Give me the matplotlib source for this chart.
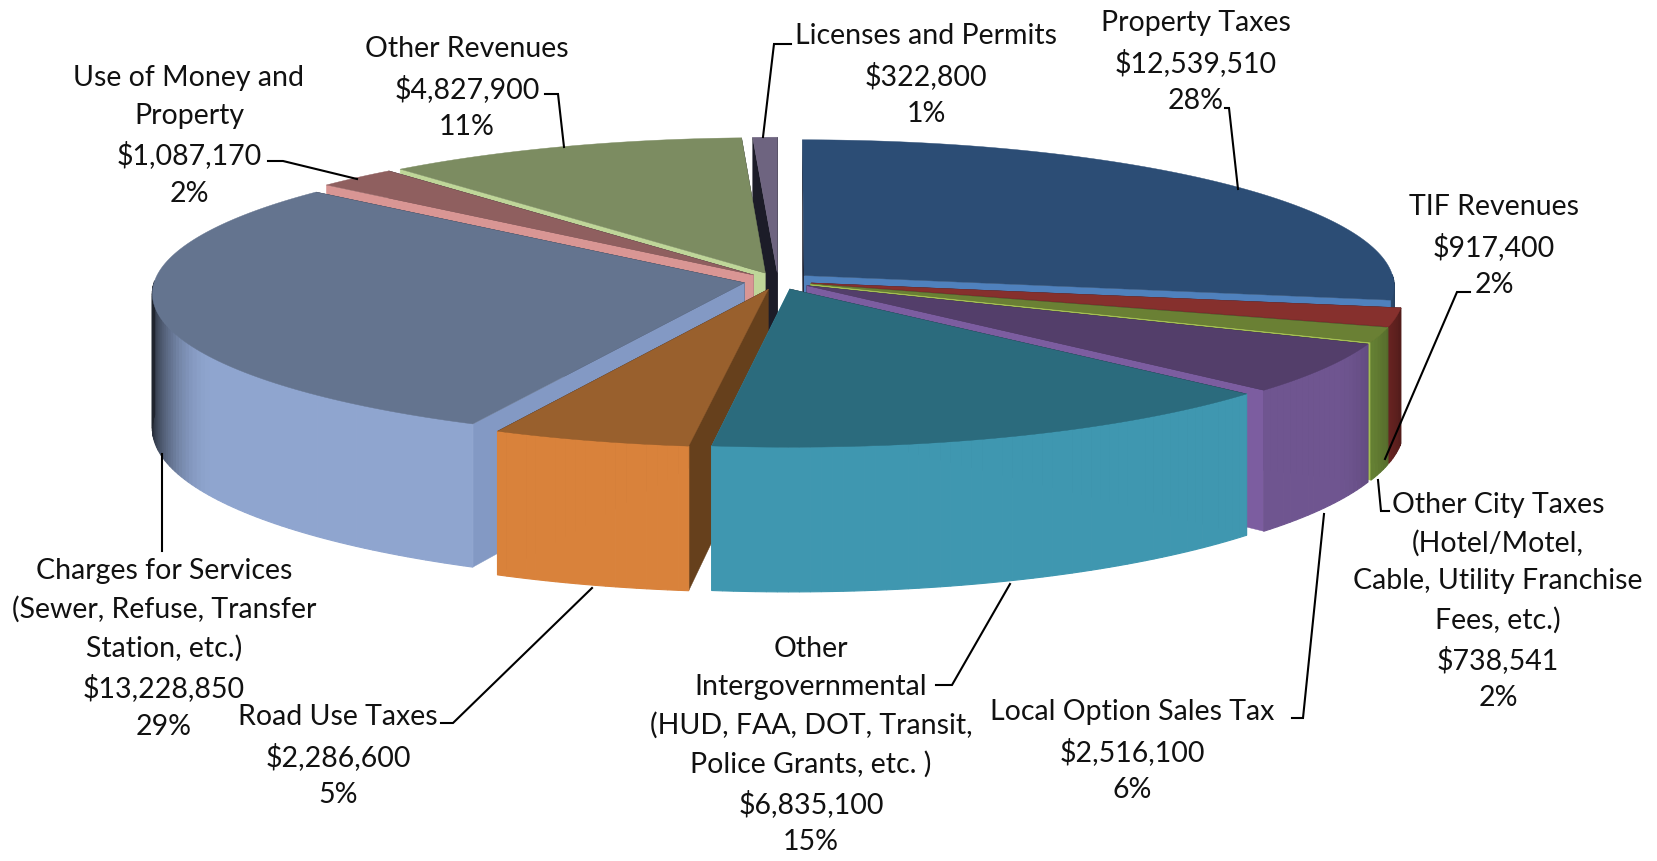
import numpy as np
import matplotlib
matplotlib.use('Agg')
import matplotlib.pyplot as plt
from matplotlib.colors import to_rgb

# ---- datos ----
labels = [
    'Property Taxes', 'TIF Revenues',
    'Other City Taxes\n(Hotel/Motel,\nCable, Utility Franchise\nFees, etc.)',
    'Local Option Sales Tax',
    'Other\nIntergovernmental\n(HUD, FAA, DOT, Transit,\nPolice Grants, etc. )',
    'Road Use Taxes',
    'Charges for Services\n(Sewer, Refuse, Transfer\nStation, etc.)',
    'Use of Money and\nProperty', 'Other Revenues', 'Licenses and Permits',
]
values = [12539510, 917400, 738541, 2516100, 6835100,
          2286600, 13228850, 1087170, 4827900, 322800]

top_colors = ['#2C4D75', '#86302D', '#6A8034', '#533E6A', '#2B6B7D',
              '#99602D', '#64748F', '#8F5F5F', '#7C8C61', '#6E6480']
wall_colors = ['#4A7EBB', '#8A2F2C', '#72903A', '#6F5590', '#3F97B0',
               '#D9823B', '#8FA5CF', '#D99694', '#C3D69B', '#8064A2']
face_colors = ['#4F81BD', '#8A2F2C', '#A4BF52', '#7C5DA0', '#3F97B0',
               '#66401C', '#8399C4', '#D99694', '#BFD699', '#1C1C28']

# orden de pintado: de atrás hacia delante
draw_order = [9, 8, 7, 0, 1, 2, 3, 6, 5, 4]

# posición de cada etiqueta (centro, px) y su línea guía
label_pos = [(1196, 21), (1494, 205), (1498, 503), (1132, 710), (811, 647),
             (338, 715), (164, 569), (189, 76), (467, 47), (926, 34)]
leaders = [
    [(1225, 109), (1229, 109), (1238, 190)],
    [(1470, 293), (1457, 293), (1385, 460)],
    [(1389, 512), (1381, 512), (1378, 481)],
    [(1292, 719), (1303, 719), (1324, 515)],
    [(936, 686), (952, 686), (1010, 585)],
    [(441, 724), (453, 724), (592, 589)],
    [(162, 552), (162, 455)],
    [(268, 162), (283, 162), (357, 180)],
    [(545, 95), (558, 95), (564, 148)],
    [(791, 45), (774, 45), (763, 138)],
]

# ---- proyección del pastel ----
CX, CY = 778, 282
RX, RY = 590, 146
DEPTH = 134
PERSP = 0.07
EXPLODE = 0.058


def project(x, y, down=False):
    s = 1 / (1 + PERSP * y)
    px = CX + RX * x * s
    py = CY - RY * y * s
    if down:
        py = py + DEPTH * s
    return px, py


def shade(color, theta):
    # el borde se oscurece hacia los extremos laterales
    amp = 0.78 if np.sin(theta) < 0 else 0.5
    t = np.clip((abs(np.sin(theta)) - 0.86) / 0.14, 0, 1) ** 2
    return tuple(c * (1 - amp * t) for c in to_rgb(color))


fig = plt.figure(figsize=(16.58, 8.62), dpi=100)
ax = fig.add_axes([0, 0, 1, 1])
ax.set_xlim(0, 1658)
ax.set_ylim(862, 0)
ax.axis('off')

total = sum(values)
cum = np.concatenate([[0], np.cumsum(values)]) / total * 2 * np.pi

for i in draw_order:
    a0, a1 = cum[i], cum[i + 1]
    mid = (a0 + a1) / 2
    ox, oy = EXPLODE * np.sin(mid), EXPLODE * np.cos(mid)
    angs = np.linspace(a0, a1, max(int(np.degrees(a1 - a0)) + 2, 3))
    xs = ox + np.sin(angs)
    ys = oy + np.cos(angs)

    # caras radiales: la visible con su color, la otra oscura
    if np.sin(mid) > 0:
        near, far = (xs[-1], ys[-1]), (xs[0], ys[0])
    else:
        near, far = (xs[0], ys[0]), (xs[-1], ys[-1])
    for (ex, ey), col in ((far, '#1C1C28'), (near, face_colors[i])):
        quad = [project(ex, ey), project(ox, oy),
                project(ox, oy, True), project(ex, ey, True)]
        ax.fill(*zip(*quad), color=col, lw=0.3, zorder=2)

    # pared exterior con degradado (solo la parte que mira al frente)
    for k in range(len(angs) - 1):
        if np.cos(angs[k]) > 0 and np.cos(angs[k + 1]) > 0:
            continue
        quad = [project(xs[k], ys[k]), project(xs[k + 1], ys[k + 1]),
                project(xs[k + 1], ys[k + 1], True), project(xs[k], ys[k], True)]
        ax.fill(*zip(*quad), color=shade(wall_colors[i], angs[k]), lw=0.8, zorder=2)

    # tapa superior
    pts = [project(ox, oy)] + [project(x, y) for x, y in zip(xs, ys)]
    ax.fill(*zip(*pts), color=top_colors[i], lw=0.3, zorder=2)

for i in range(len(values)):
    pct = values[i] / total * 100
    txt = f'{labels[i]}\n${values[i]:,}\n{pct:.0f}%'
    ax.text(label_pos[i][0], label_pos[i][1] - 11, txt, ha='center', va='top',
            family='Lato', fontsize=20.5, linespacing=1.55, color='#111111', zorder=4)
    ax.plot(*zip(*leaders[i]), color='black', lw=1.5, zorder=3,
            solid_joinstyle='miter')

fig.savefig('out.png', dpi=100)
